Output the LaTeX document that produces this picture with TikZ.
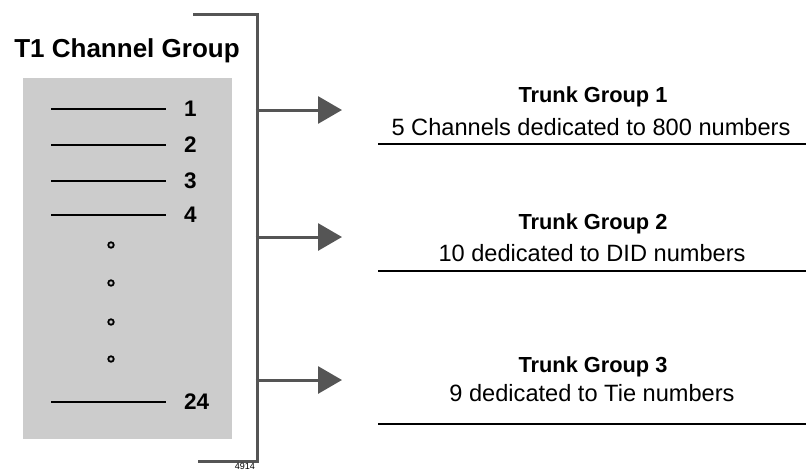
\documentclass[tikz,border=0pt]{standalone}
\usepackage{fontspec}
\setmainfont{Liberation Sans}
\usetikzlibrary{arrows.meta}
\definecolor{brk}{HTML}{555555}
\definecolor{boxgray}{HTML}{CCCCCC}
\tikzset{
  brack/.style={draw=brk, line width=3pt},
  branch/.style={draw=brk, line width=3pt, -{Triangle[length=24pt,width=27pt]}, shorten <=-1.5pt},
  chanline/.style={draw=black, line width=2.3pt},
  uline/.style={draw=black, line width=2.4pt},
  chnum/.style={anchor=west, inner sep=0pt, font=\fontsize{22.5}{26}\selectfont\bfseries},
  tghead/.style={anchor=base, inner sep=0pt, font=\fontsize{21.8}{25}\selectfont\bfseries},
  tgtext/.style={anchor=base, inner sep=0pt, font=\fontsize{23.6}{28}\selectfont},
  dotring/.style={circle, draw=black, fill=boxgray, line width=1.8pt, inner sep=0pt, minimum size=5.5pt},
}
\begin{document}
\begin{tikzpicture}[x=1pt, y=-1pt]
\useasboundingbox (0,0) rectangle (806,471);
% title
\node[anchor=base, inner sep=0pt, font=\fontsize{26}{30}\selectfont\bfseries] (title) at (127,57) {T1 Channel Group};
% gray box
\node[fill=boxgray, inner sep=0pt, minimum width=209pt, minimum height=361pt, anchor=north west] (box) at (23,78) {};
% channel lines
\foreach \i/\y in {1/109, 2/145, 3/181, 4/215, 24/402} {
  \coordinate (l\i a) at (51,\y);
  \coordinate (l\i b) at (166,\y);
  \draw[chanline] (l\i a) -- (l\i b);
  \node[chnum] (n\i) at (184,\y) {\i};
}
% dots
\foreach \k/\y in {1/245, 2/283, 3/322, 4/359} {
  \node[dotring] (d\k) at (111,\y) {};
}
% bracket
\coordinate (bt) at (193,14.5);
\coordinate (btr) at (257,14.5);
\coordinate (bbr) at (257,461);
\coordinate (bb) at (198,461);
\draw[brack] (bt) -- (btr) -- (bbr) -- (bb);
\node[anchor=north east, inner sep=0pt, font=\fontsize{9}{11}\selectfont] (code) at (255,463.5) {4914};
% branches
\coordinate (s1) at (257,110);
\coordinate (s2) at (257,237);
\coordinate (s3) at (257,380);
\coordinate (t1) at (342,110);
\coordinate (t2) at (342,237);
\coordinate (t3) at (342,380);
\draw[branch] (s1) -- (t1);
\draw[branch] (s2) -- (t2);
\draw[branch] (s3) -- (t3);
% trunk groups
\node[tghead] (tg1) at (593,102) {Trunk Group 1};
\node[tgtext] (tx1) at (591,135) {5 Channels dedicated to 800 numbers};
\node[tghead] (tg2) at (593,229) {Trunk Group 2};
\node[tgtext] (tx2) at (592,261) {10 dedicated to DID numbers};
\node[tghead] (tg3) at (593,372) {Trunk Group 3};
\node[tgtext] (tx3) at (592,401) {9 dedicated to Tie numbers};
\coordinate (u1a) at (378,144); \coordinate (u1b) at (806,144);
\coordinate (u2a) at (378,271); \coordinate (u2b) at (806,271);
\coordinate (u3a) at (378,424); \coordinate (u3b) at (806,424);
\draw[uline] (u1a) -- (u1b);
\draw[uline] (u2a) -- (u2b);
\draw[uline] (u3a) -- (u3b);
\end{tikzpicture}
\end{document}
